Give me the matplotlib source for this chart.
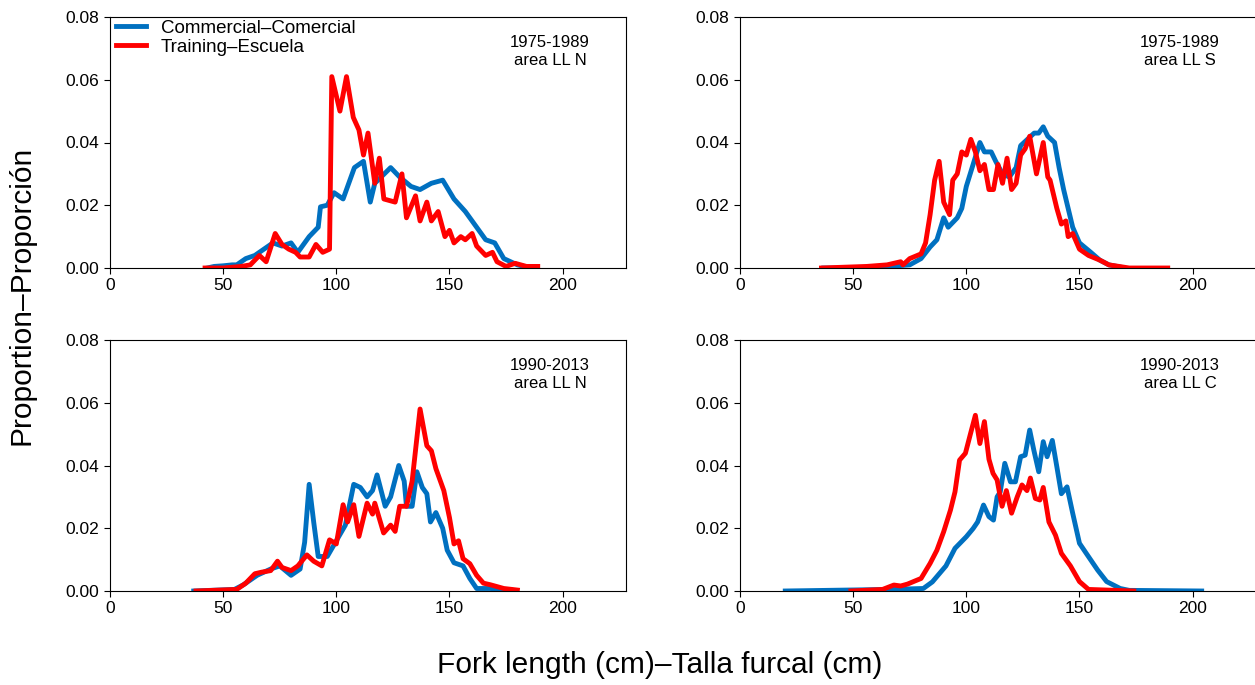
import matplotlib
matplotlib.use("Agg")
import matplotlib.pyplot as plt

plt.rcParams['font.family'] = ['Liberation Sans', 'DejaVu Sans']

# Panel 1: 1975-1989 area LL N
p1_com_len = [43,46,50,54,56,60,64,68,72,76,80,83,88,92,93,96,99,103,108,112,115,117,124,128,133,137,142,147,152,157,161,166,170,174,180,183]
p1_com_val = [0,0.0005,0.0007,0.001,0.001,0.003,0.004,0.006,0.008,0.007,0.008,0.005,0.010,0.013,0.0195,0.020,0.024,0.022,0.032,0.034,0.021,0.027,0.032,0.029,0.026,0.025,0.027,0.028,0.022,0.018,0.014,0.009,0.008,0.003,0.001,0.0005]
p1_tr_len = [42,50,58,62,66,69,73,76,79,82,84,88,91,94,97,98,101.6,104.5,107.5,110,112,114,117,119,121,126,129,131,135,137,140,142,145,148,150,152,155,157,160,162,166,169,171,175,179,184,189]
p1_tr_val = [0,0,0.0005,0.001,0.004,0.002,0.011,0.0075,0.006,0.005,0.0035,0.0035,0.0075,0.005,0.006,0.061,0.050,0.061,0.048,0.044,0.036,0.043,0.027,0.035,0.022,0.021,0.030,0.016,0.023,0.015,0.021,0.015,0.018,0.010,0.012,0.008,0.010,0.009,0.011,0.007,0.004,0.005,0.002,0.0005,0.0015,0.0005,0.0005]

# Panel 2: 1975-1989 area LL S
p2_com_len = [37,56,66,75,80,84,87,90,92,96,98,100,103,106,108,111,113,116,119,122,124,127,130,132,134,136,139,141,143,145,147,150,155,159,163,168]
p2_com_val = [0,0,0.0005,0.001,0.003,0.0067,0.009,0.016,0.013,0.016,0.019,0.026,0.033,0.040,0.037,0.037,0.034,0.030,0.029,0.032,0.039,0.041,0.043,0.043,0.045,0.042,0.040,0.032,0.025,0.019,0.013,0.008,0.005,0.0025,0.001,0.0003]
p2_tr_len = [36,56,65,71,72,75,80,82,84,86,88,90,92.6,94,96,98,100,102,104,106,108,110,112,114,116,118,120,122,124,126,128,129,131,134,136,137,140,142,144,145,147,150,154,159,163,172,189]
p2_tr_val = [0,0.0005,0.001,0.002,0.001,0.003,0.0045,0.008,0.017,0.028,0.034,0.021,0.017,0.028,0.030,0.037,0.036,0.041,0.037,0.031,0.033,0.025,0.025,0.033,0.027,0.035,0.025,0.027,0.036,0.038,0.042,0.038,0.030,0.040,0.029,0.028,0.019,0.014,0.015,0.010,0.011,0.006,0.004,0.0025,0.001,0,0]

# Panel 3: 1990-2013 area LL N
p3_com_len = [37,55,59,65,71,75,80,84,86,88,90,92,96,100,104,107.7,110.6,113.6,116,118,121.6,124,127.6,130,131,133.5,135.6,138,140,141.6,144,147,149,152,156,159,162,168,177]
p3_com_val = [0,0.0005,0.002,0.005,0.007,0.008,0.005,0.007,0.0155,0.034,0.022,0.011,0.011,0.016,0.021,0.034,0.033,0.030,0.032,0.037,0.027,0.030,0.040,0.035,0.027,0.027,0.038,0.033,0.031,0.022,0.025,0.020,0.013,0.009,0.008,0.004,0.0008,0.0008,0.0003]
p3_tr_len = [38,56,60,64,67,71,74,76,80,83,87,90,93.6,97,100,103,105,107.7,110,113.6,116,117,120.9,124,126,128,131,133.5,137,140,142,144,147.5,150,152,154,156,159,162,165,168,174,180]
p3_tr_val = [0,0.0005,0.0025,0.0055,0.006,0.0065,0.0095,0.0075,0.0065,0.008,0.0115,0.0095,0.008,0.0163,0.015,0.0275,0.022,0.0275,0.0174,0.028,0.0245,0.028,0.0185,0.021,0.019,0.027,0.027,0.035,0.058,0.0463,0.0447,0.039,0.032,0.0234,0.015,0.016,0.0103,0.0087,0.005,0.0025,0.002,0.0008,0.0003]

# Panel 4: 1990-2013 area LL C
p4_com_len = [20,66,81,85,91,95,100,103,105,107.6,110,112,113.6,115,117,119.5,121.7,124,126,128,129.8,132,134,135.7,138,140,142,144.5,147,150,153,158,162,168,172,204]
p4_com_val = [0,0.0005,0.0008,0.0029,0.008,0.0136,0.0173,0.0199,0.022,0.0274,0.0237,0.0226,0.030,0.0316,0.0407,0.0348,0.0348,0.0428,0.0433,0.0513,0.045,0.038,0.0476,0.0428,0.048,0.0396,0.031,0.0332,0.0248,0.0152,0.012,0.0067,0.003,0.0008,0.0002,0]
p4_tr_len = [49,63,68,71,74,80,84,87,90,93,95,97,99.6,101.8,104,106,108,110,111.8,113.6,115.8,117.7,120,122.5,124.6,126.8,128.3,130.5,132.5,134,136.5,139.4,142,146,150,154,162,174]
p4_tr_val = [0,0.0005,0.0019,0.0016,0.0022,0.004,0.0088,0.013,0.0189,0.0258,0.0316,0.0417,0.0439,0.050,0.056,0.047,0.054,0.042,0.0375,0.0354,0.027,0.032,0.0248,0.030,0.0338,0.032,0.036,0.0295,0.029,0.033,0.022,0.0178,0.012,0.008,0.003,0.0005,0.0003,0]

panels = [
    (p1_com_len, p1_com_val, p1_tr_len, p1_tr_val, "1975-1989\narea LL N"),
    (p2_com_len, p2_com_val, p2_tr_len, p2_tr_val, "1975-1989\narea LL S"),
    (p3_com_len, p3_com_val, p3_tr_len, p3_tr_val, "1990-2013\narea LL N"),
    (p4_com_len, p4_com_val, p4_tr_len, p4_tr_val, "1990-2013\narea LL C"),
]

W, H = 1255, 685
fig = plt.figure(figsize=(W/100, H/100), dpi=100)
boxes = [(110, 17), (740, 17), (110, 340), (740, 340)]
aw, ah = 516, 251
BLUE = '#0070C0'
RED = '#FF0000'
for (x0, y0), (cl, cv, tl, tv, lab) in zip(boxes, panels):
    ax = fig.add_axes([x0/W, (H - y0 - ah)/H, aw/W, ah/H])
    ax.plot(cl, cv, color=BLUE, lw=3.5, label='Commercial\u2013Comercial')
    ax.plot(tl, tv, color=RED, lw=3.5, label='Training\u2013Escuela')
    ax.set_xlim(0, 228)
    ax.set_ylim(0, 0.08)
    ax.set_xticks([0, 50, 100, 150, 200])
    ax.set_yticks([0, 0.02, 0.04, 0.06, 0.08])
    ax.set_yticklabels(['0.00', '0.02', '0.04', '0.06', '0.08'])
    ax.tick_params(labelsize=12.5, direction='out', length=4)
    ax.text(0.853, 0.93, lab, transform=ax.transAxes, ha='center', va='top',
            fontsize=12, linespacing=1.25)
    if (x0, y0) == (110, 17):
        ax.legend(loc='upper left', bbox_to_anchor=(-0.01, 1.035), frameon=False,
                  fontsize=13.5, handlelength=1.6, handletextpad=0.8,
                  labelspacing=0.1, borderaxespad=0.2)

fig.text(8/W, (H - 295)/H, 'Proportion\u2013Proporci\u00f3n', rotation=90, va='center',
         ha='left', fontsize=21.5)
fig.text(660/W, (H - 665)/H, 'Fork length (cm)\u2013Talla furcal (cm)', ha='center',
         va='center', fontsize=21.5)
fig.savefig('out.png', dpi=100)
